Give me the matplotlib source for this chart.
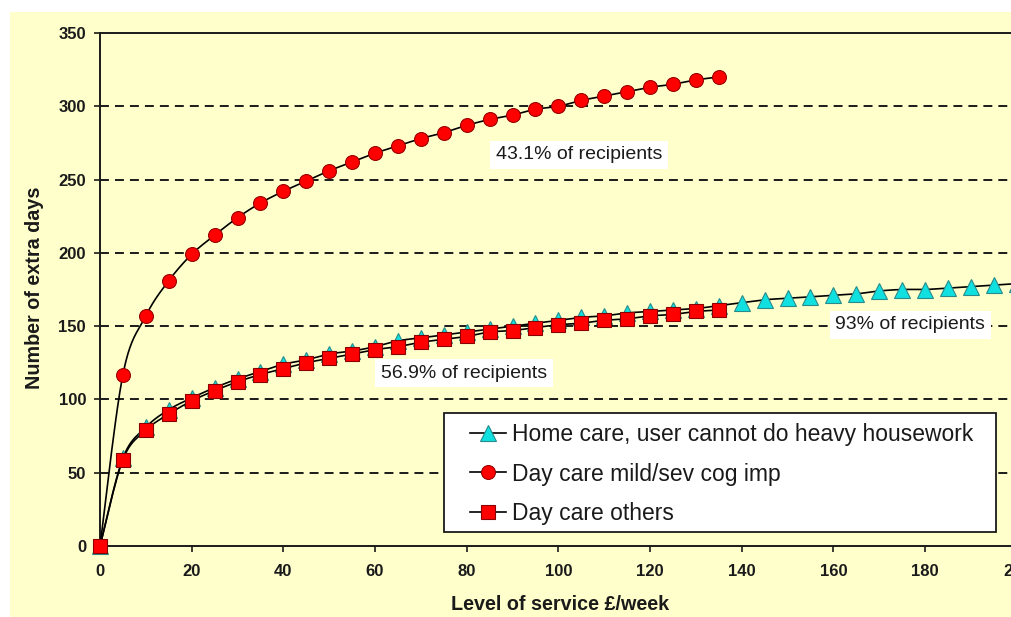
import numpy as np
import matplotlib
matplotlib.use("Agg")
import matplotlib.pyplot as plt
from matplotlib.patches import Rectangle
from matplotlib.lines import Line2D

plt.rcParams['font.family'] = ['Liberation Sans', 'DejaVu Sans']

# ---------------- data ----------------
x_home = list(range(0, 205, 5))
home_care = [0, 60, 81, 93, 101, 108, 114, 119, 124, 127, 131, 133, 136, 140, 142,
             144, 146, 148, 150, 152, 154, 156, 157, 159, 160, 161, 162, 164, 166,
             168, 169, 170, 171, 172, 174, 175, 175, 176, 177, 178, 179]

x_day = list(range(0, 140, 5))
day_cog = [0, 117, 157, 181, 199, 212, 224, 234, 242, 249, 256, 262, 268, 273, 278,
           282, 287, 291, 294, 298, 300, 304, 307, 310, 313, 315, 318, 320]
day_others = [0, 59, 79, 90, 99, 106, 112, 117, 121, 125, 128, 131, 134, 136, 139,
              141, 143, 146, 147, 149, 151, 152, 154, 155, 157, 158, 160, 161]

series_labels = ["Home care, user cannot do heavy housework",
                 "Day care mild/sev cog imp",
                 "Day care others"]
annotations = [("43.1% of recipients", 104.6, 266.8),
               ("93% of recipients", 176.8, 150.8),
               ("56.9% of recipients", 79.4, 118.0)]
xticks = list(range(0, 220, 20))
yticks = list(range(0, 400, 50))


def smooth(xs, ys, n=24):
    """Excel-style smoothed line through the points (cubic Bezier, Catmull-Rom)."""
    xs = np.asarray(xs, float)
    ys = np.asarray(ys, float)
    P = np.column_stack([xs, ys])
    out = [P[0]]
    m = len(P)
    t = np.linspace(0, 1, n)[1:, None]
    for i in range(m - 1):
        p0 = P[i - 1] if i > 0 else P[i]
        p1 = P[i]
        p2 = P[i + 1]
        p3 = P[i + 2] if i + 2 < m else P[i + 1]
        c1 = p1 + (p2 - p0) / 6.0
        c2 = p2 - (p3 - p1) / 6.0
        seg = ((1 - t) ** 3) * p1 + 3 * ((1 - t) ** 2) * t * c1 + 3 * (1 - t) * t ** 2 * c2 + t ** 3 * p2
        out.extend(seg)
    out = np.array(out)
    return out[:, 0], out[:, 1]


BG = '#FFFFCC'
W, H = 1012, 617
fig = plt.figure(figsize=(W / 100, H / 100), dpi=100, facecolor='white')
fig.patches.append(Rectangle((10 / W, 0), 1 - 10 / W, 1 - 12 / H, transform=fig.transFigure,
                             facecolor=BG, edgecolor='none', zorder=-10))

x0px, x200px = 100, 1016.7
ytop, y0px = 33, 546
ax = fig.add_axes([x0px / W, (H - y0px) / H, (x200px - x0px) / W, (y0px - ytop) / H])
ax.set_facecolor(BG)
ax.set_xlim(0, 200)
ax.set_ylim(0, 350)

for s in ax.spines.values():
    s.set_color('#1a1a1a')
    s.set_linewidth(1.4)

ax.set_xticks(xticks)
ax.set_yticks(yticks)
ax.tick_params(axis='both', direction='out', length=4, width=1.2, color='#1a1a1a',
               labelsize=12)
ax.tick_params(axis='x', pad=9)
ax.tick_params(axis='y', pad=6)
for lab in ax.get_xticklabels() + ax.get_yticklabels():
    lab.set_fontweight('bold')
    lab.set_color('#1a1a1a')

for yv in yticks[1:-1]:
    ax.axhline(yv, color='#1a1a1a', lw=1.4, linestyle=(0, (4.6, 3.1)), zorder=1)

lw = 1.2
# Home care (triangles)
sx, sy = smooth(x_home, home_care)
ax.plot(sx, sy, color='black', lw=lw, zorder=3, clip_on=False)
ax.plot(x_home, home_care, linestyle='none', marker='^', markersize=11,
        markerfacecolor='#10E0E0', markeredgecolor='#2a8a8a', markeredgewidth=0.8,
        zorder=3.1, clip_on=False)
# Day care cog (circles)
sx, sy = smooth(x_day, day_cog)
ax.plot(sx, sy, color='black', lw=lw, zorder=4, clip_on=False)
ax.plot(x_day, day_cog, linestyle='none', marker='o', markersize=10,
        markerfacecolor='#FF0000', markeredgecolor='#990000', markeredgewidth=0.8,
        zorder=4.1, clip_on=False)
# Day care others (squares)
sx, sy = smooth(x_day, day_others)
ax.plot(sx, sy, color='black', lw=lw, zorder=5, clip_on=False)
ax.plot(x_day, day_others, linestyle='none', marker='s', markersize=10,
        markerfacecolor='#FF0000', markeredgecolor='#880000', markeredgewidth=0.8,
        zorder=5.1, clip_on=False)

# annotations
for txt, xv, yv in annotations:
    ax.text(xv, yv, txt, ha='center', va='center', fontsize=14, color='#1a1a1a', zorder=6,
            bbox=dict(boxstyle='square,pad=0.3', facecolor='white', edgecolor='none'))

# axis labels
fig.text(35 / W, 1 - 288 / H, "Number of extra days", rotation=90, ha='center', va='center',
         fontsize=14.2, fontweight='bold', color='#1a1a1a')
fig.text(560 / W, 1 - 605 / H, "Level of service £/week", ha='center', va='center',
         fontsize=14.2, fontweight='bold', color='#1a1a1a')

# legend frame
def ax_fx(px):
    return (px - x0px) / (x200px - x0px)


def ax_fy(py):
    return (y0px - py) / (y0px - ytop)


ax.add_patch(Rectangle((ax_fx(444), ax_fy(532)), ax_fx(996) - ax_fx(444), ax_fy(413) - ax_fy(532),
                       transform=ax.transAxes, facecolor='white', edgecolor='#1a1a1a',
                       lw=1.3, zorder=7, clip_on=False))
handles = [
    Line2D([], [], color='black', lw=lw, marker='^', markersize=11,
           markerfacecolor='#10E0E0', markeredgecolor='#2a8a8a', markeredgewidth=0.8),
    Line2D([], [], color='black', lw=lw, marker='o', markersize=10,
           markerfacecolor='#FF0000', markeredgecolor='#990000', markeredgewidth=0.8),
    Line2D([], [], color='black', lw=lw, marker='s', markersize=10,
           markerfacecolor='#FF0000', markeredgecolor='#880000', markeredgewidth=0.8),
]
leg = ax.legend(handles, series_labels, loc='upper left',
                bbox_to_anchor=(ax_fx(470), ax_fy(423)), borderpad=0, borderaxespad=0,
                frameon=False, fontsize=16.5, handlelength=1.55, handletextpad=0.3,
                labelspacing=0.72)
leg.set_zorder(8)
for t in leg.get_texts():
    t.set_color('#1a1a1a')

fig.savefig('out.png', dpi=100, facecolor='white')
